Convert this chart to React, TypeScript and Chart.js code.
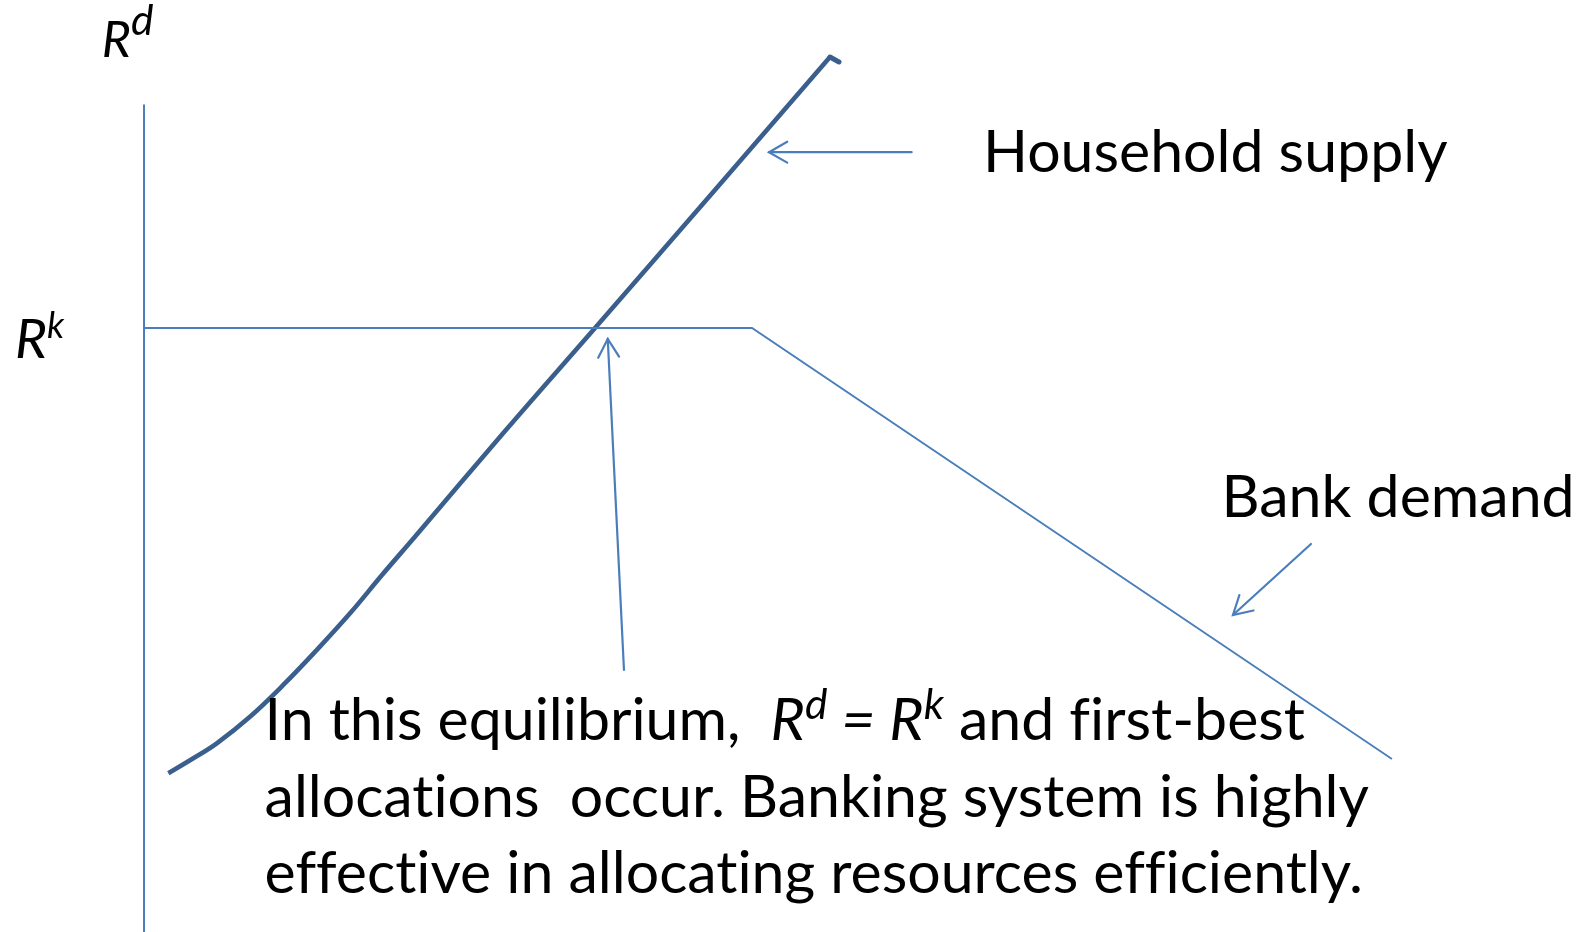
import React, { useEffect, useRef } from "react";
import { Chart, registerables } from "chart.js";

Chart.register(...registerables);

// ---- Data (abstract units: x = quantity of deposits, y = return) ----
const X_RANGE = [-11.54, 116.03];
const Y_RANGE = [0, 77.15];

const axisX = [0, 0];
const axisY = [0, 68.5];

const supplyX = [1.95, 3.95, 5.83, 8.49, 11.16, 13.84, 16.51, 19.07, 21.71, 28.93, 36.14, 45.75, 54.97];
const supplyY = [13.14, 14.38, 15.62, 17.82, 20.45, 23.34, 26.38, 29.55, 32.72, 41.47, 50.0, 61.42, 72.43];
const supplyHookX = [54.97, 55.69];
const supplyHookY = [72.43, 72.02];

const demandX = [0, 48.72, 100];
const demandY = [50, 50, 14.32];

// arrows: [tailX, tailY, tipX, tipY]
const arrowSupply = [61.51, 64.55, 50.08, 64.55];
const arrowEquil = [38.46, 21.69, 37.16, 49.09];
const arrowDemand = [93.51, 32.12, 87.26, 26.24];

// label anchors (left, baseline)
const labelSupply = { text: "Household supply", x: 67.23, y: 62.94 };
const labelDemand = { text: "Bank demand", x: 86.35, y: 34.38 };
const labelRd = { x: -3.39, y: 72.46 };
const labelRk = { x: -10.34, y: 47.52 };
const paragraphX = 9.66;
const paragraphY = [15.89, 9.54, 3.23];
const paragraphLines = [
  "In this equilibrium,  ",
  "allocations  occur. Banking system is highly",
  "effective in allocating resources efficiently.",
];

const THIN = "#4A7EBB";
const THICK = "#3A5F8D";
const FONT = "Lato, 'Open Sans', sans-serif";
const ZWNJ = "\u200C";
// break ligatures (fi, ff, ti) so glyphs render separately as in the original
const noLig = (s: string) => s.replace(/([ft])(?=[fil])/g, "$1" + ZWNJ);

type Run = { t: string; italic?: boolean; sup?: boolean };

function drawRuns(
  ctx: CanvasRenderingContext2D,
  runs: Run[],
  x: number,
  y: number,
  size: number,
  supScale = 0.72,
  supRaise = 0.4
) {
  let cx = x;
  for (const r of runs) {
    const s = r.sup ? size * supScale : size;
    ctx.font = `${r.italic ? "italic " : ""}${s}px ${FONT}`;
    const dy = r.sup ? -size * supRaise : 0;
    const t = noLig(r.t);
    ctx.fillText(t, cx, y + dy);
    cx += ctx.measureText(t).width;
  }
  return cx;
}

const toPts = (xs: number[], ys: number[]) => xs.map((x, i) => ({ x, y: ys[i] }));

const overlayPlugin = {
  id: "overlay",
  afterDatasetsDraw(chart: any) {
    const { ctx, scales } = chart;
    const px = (v: number) => scales.x.getPixelForValue(v);
    const py = (v: number) => scales.y.getPixelForValue(v);
    ctx.save();

    // arrows
    const arrows = [arrowSupply, arrowEquil, arrowDemand];
    ctx.strokeStyle = THIN;
    ctx.lineWidth = 2.2;
    ctx.lineCap = "round";
    for (const a of arrows) {
      const x1 = px(a[0]), y1 = py(a[1]), x2 = px(a[2]), y2 = py(a[3]);
      ctx.beginPath();
      ctx.moveTo(x1, y1);
      ctx.lineTo(x2, y2);
      ctx.stroke();
      const ang = Math.atan2(y1 - y2, x1 - x2);
      const len = 21;
      const spread = 0.52;
      ctx.beginPath();
      ctx.moveTo(x2 + len * Math.cos(ang + spread), y2 + len * Math.sin(ang + spread));
      ctx.lineTo(x2, y2);
      ctx.lineTo(x2 + len * Math.cos(ang - spread), y2 + len * Math.sin(ang - spread));
      ctx.stroke();
    }

    // text
    ctx.fillStyle = "#000";
    ctx.textBaseline = "alphabetic";
    ctx.textAlign = "left";
    const size = 59;
    ctx.font = `${size}px ${FONT}`;
    ctx.fillText(labelSupply.text, px(labelSupply.x), py(labelSupply.y));
    ctx.fillText(labelDemand.text, px(labelDemand.x), py(labelDemand.y));

    drawRuns(ctx, [{ t: "R", italic: true }, { t: "d", italic: true, sup: true }], px(labelRd.x), py(labelRd.y), 50, 0.85, 0.43);
    drawRuns(ctx, [{ t: "R", italic: true }, { t: "k", italic: true, sup: true }], px(labelRk.x), py(labelRk.y), 55, 0.66, 0.36);

    drawRuns(
      ctx,
      [
        { t: paragraphLines[0] },
        { t: "R", italic: true },
        { t: "d", italic: true, sup: true },
        { t: " = ", italic: true },
        { t: "R", italic: true },
        { t: "k", italic: true, sup: true },
        { t: " and first-best" },
      ],
      px(paragraphX),
      py(paragraphY[0]),
      size,
      0.72,
      0.36
    );
    ctx.font = `${size}px ${FONT}`;
    ctx.fillText(noLig(paragraphLines[1]), px(paragraphX), py(paragraphY[1]));
    ctx.fillText(noLig(paragraphLines[2]), px(paragraphX), py(paragraphY[2]));

    ctx.restore();
  },
};

export default function App() {
  const ref = useRef<HTMLCanvasElement>(null);
  useEffect(() => {
    document.body.style.margin = "0";
    const canvas = ref.current!;
    const chart = new Chart(canvas, {
      type: "scatter",
      data: {
        datasets: [
          {
            data: toPts(axisX, axisY),
            showLine: true,
            borderColor: THIN,
            borderWidth: 2,
            pointRadius: 0,
          },
          {
            data: toPts(demandX, demandY),
            showLine: true,
            borderColor: THIN,
            borderWidth: 1.8,
            pointRadius: 0,
          },
          {
            data: toPts(supplyX, supplyY),
            showLine: true,
            borderColor: THICK,
            borderWidth: 4.6,
            pointRadius: 0,
            tension: 0.4,
            borderCapStyle: "butt",
            borderJoinStyle: "round",
          } as any,
          {
            data: toPts(supplyHookX, supplyHookY),
            showLine: true,
            borderColor: THICK,
            borderWidth: 5,
            pointRadius: 0,
            borderCapStyle: "round",
          } as any,
        ],
      },
      options: {
        animation: false,
        responsive: false,
        maintainAspectRatio: false,
        layout: { padding: 0 },
        plugins: { legend: { display: false }, tooltip: { enabled: false } },
        scales: {
          x: { type: "linear", display: false, min: X_RANGE[0], max: X_RANGE[1] },
          y: { type: "linear", display: false, min: Y_RANGE[0], max: Y_RANGE[1] },
        },
      },
      plugins: [overlayPlugin],
    });
    return () => chart.destroy();
  }, []);
  return <canvas ref={ref} width={1592} height={932} style={{ display: "block" }} />;
}
